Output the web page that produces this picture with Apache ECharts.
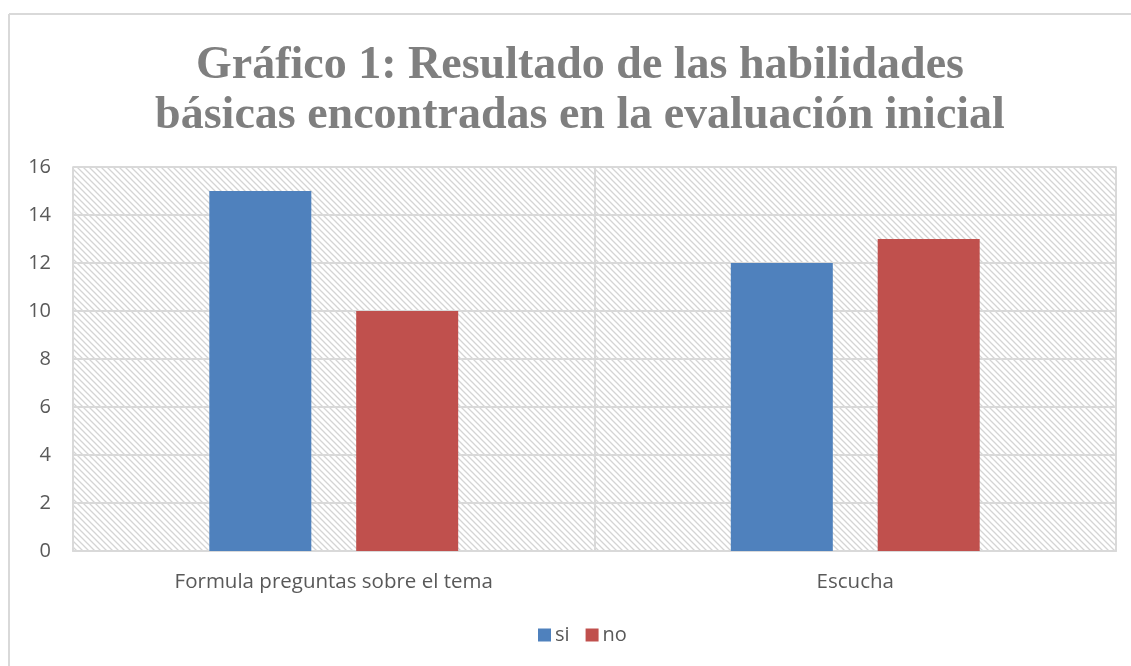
<!DOCTYPE html>
<html>
<head>
<meta charset="utf-8">
<script src="https://cdn.jsdelivr.net/npm/echarts@6/dist/echarts.min.js"></script>
<style>
  html, body { margin: 0; padding: 0; background: #fff; }
  #main { width: 1131px; height: 666px; }
</style>
</head>
<body>
<div id="main"></div>
<script>
// datos del gráfico
var categorias = ['Formula preguntas sobre el tema', 'Escucha'];
var serieSi = [15, 12];
var serieNo = [10, 13];
var nombres = ['si', 'no'];

// patrón de rayas diagonales para el fondo del área de trazado
function hatch() {
  var c = document.createElement('canvas');
  c.width = 6; c.height = 6;
  var ctx = c.getContext('2d');
  ctx.fillStyle = '#ffffff';
  ctx.fillRect(0, 0, 6, 6);
  ctx.strokeStyle = '#d4d4d4';
  ctx.lineWidth = 1.3;
  ctx.beginPath();
  ctx.moveTo(-1, -1); ctx.lineTo(7, 7);
  ctx.moveTo(-4, 2); ctx.lineTo(4, 10);
  ctx.moveTo(2, -4); ctx.lineTo(10, 4);
  ctx.stroke();
  return c;
}

var myChart = echarts.init(document.getElementById('main'));
myChart.setOption({
  animation: false,
  title: {
    text: 'Gráfico 1: Resultado de las habilidades\nbásicas encontradas en la evaluación inicial',
    left: 575,
    textAlign: 'center',
    top: 36,
    textStyle: {
      fontFamily: 'Liberation Serif',
      fontWeight: 'bold',
      fontSize: 46,
      lineHeight: 50,
      color: '#7f7f7f'
    }
  },
  legend: {
    data: nombres,
    bottom: 16,
    left: 533,
    itemWidth: 13,
    itemHeight: 13,
    itemGap: 16,
    icon: 'rect',
    textStyle: { fontFamily: 'Open Sans', fontSize: 20, color: '#595959', padding: [0, 0, 0, -1] }
  },
  grid: {
    left: 73, right: 15, top: 167, bottom: 115,
    show: true,
    backgroundColor: { image: hatch(), repeat: 'repeat' },
    borderColor: '#d9d9d9',
    borderWidth: 1.5
  },
  xAxis: {
    type: 'category',
    data: categorias,
    axisLine: { lineStyle: { color: '#d9d9d9', width: 2 } },
    axisTick: { show: false },
    splitLine: { show: true, lineStyle: { color: '#d9d9d9', width: 2 } },
    axisLabel: { fontFamily: 'Open Sans', fontSize: 20.5, color: '#595959', margin: 21 }
  },
  yAxis: {
    type: 'value',
    min: 0, max: 16, interval: 2,
    axisLine: { show: false },
    axisTick: { show: false },
    splitLine: { lineStyle: { color: '#d9d9d9', width: 2 } },
    axisLabel: { fontFamily: 'Open Sans', fontSize: 20, color: '#595959', margin: 22 }
  },
  series: [
    { name: nombres[0], type: 'bar', data: serieSi, barWidth: 102, barGap: '44%',
      itemStyle: { color: '#4f81bd' } },
    { name: nombres[1], type: 'bar', data: serieNo, barWidth: 102,
      itemStyle: { color: '#c0504d' } }
  ],
  graphic: [
    { type: 'line', shape: { x1: 9, y1: 14, x2: 1131, y2: 14 }, style: { stroke: '#d9d9d9', lineWidth: 2 } },
    { type: 'line', shape: { x1: 9, y1: 14, x2: 9, y2: 666 }, style: { stroke: '#d9d9d9', lineWidth: 2 } }
  ]
});
</script>
</body>
</html>
